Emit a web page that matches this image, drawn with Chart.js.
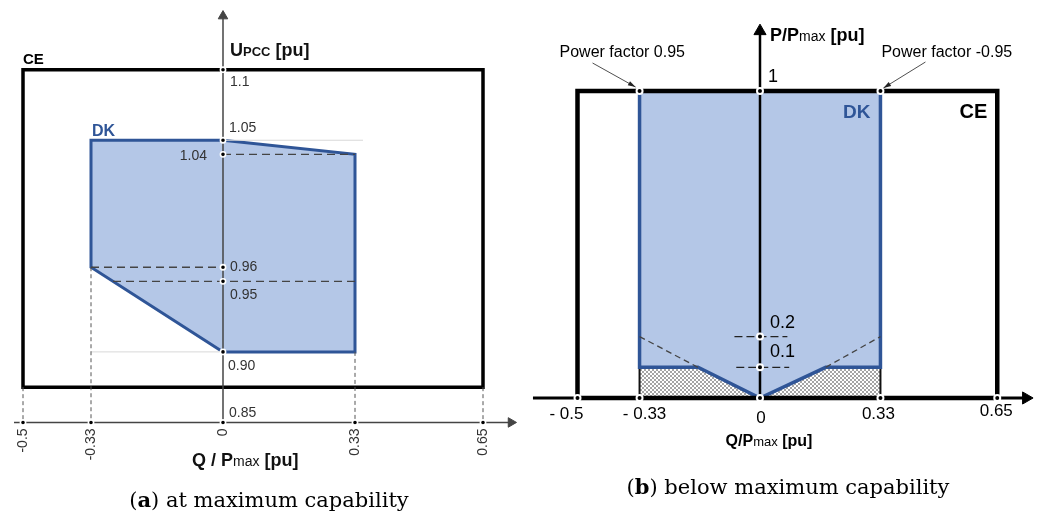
<!DOCTYPE html>
<html>
<head>
<meta charset="utf-8">
<script src="https://cdn.jsdelivr.net/npm/chart.js@4.4.0/dist/chart.umd.min.js"></script>
<style>
  html, body { margin: 0; padding: 0; background: #fff; }
  #wrap { position: relative; width: 1038px; height: 515px; overflow: hidden; }
  .pane { position: absolute; top: 0; width: 519px; height: 515px; }
  .cap { position: absolute; font-family: "DejaVu Serif", serif; font-size: 21px; color: #000;
         white-space: nowrap; transform: translateX(-50%); line-height: 24px; }
</style>
</head>
<body>
<div id="wrap">
  <div class="pane" style="left:0"><canvas id="chartA"></canvas></div>
  <div class="pane" style="left:519px"><canvas id="chartB"></canvas></div>
  <div class="cap" style="left:269px; top:488px">(<b>a</b>) at maximum capability</div>
  <div class="cap" style="left:788px; top:475px">(<b>b</b>) below maximum capability</div>
</div>
<script>
"use strict"

/*----------------------------- data (a) -----------------------------*/
const qTicksA = [-0.5, -0.33, 0, 0.33, 0.65];
const qLabelsA = ["-0.5", "-0.33", "0", "0.33", "0.65"];
const uTicksA = [1.1, 1.05, 1.04, 0.96, 0.95, 0.90, 0.85];
const uLabelsA = ["1.1", "1.05", "1.04", "0.96", "0.95", "0.90", "0.85"];

const dkQA = [-0.33, 0, 0.33, 0.33, 0, -0.33, -0.33]; // DK area
const dkUA = [1.05, 1.05, 1.04, 0.90, 0.90, 0.96, 1.05];
const ceQA = [-0.5, 0.65, 0.65, -0.5, -0.5];          // CE box
const ceUA = [1.1, 1.1, 0.875, 0.875, 1.1];

/*----------------------------- data (b) -----------------------------*/
const qTicksB = [-0.5, -0.33, 0, 0.33, 0.65];
const qLabelsB = ["- 0.5", "- 0.33", "0", "0.33", "0.65"];
const pTicksB = [0.1, 0.2, 1];
const pLabelsB = ["0.1", "0.2", "1"];

const dkQB = [-0.33, 0.33, 0.33, 0.18, 0, -0.17, -0.33, -0.33];
const dkPB = [1, 1, 0.1, 0.1, 0, 0.1, 0.1, 1];
const hatchQB = [-0.33, -0.33, -0.17, 0, 0.18, 0.33, 0.33, -0.33];
const hatchPB = [0, 0.1, 0.1, 0, 0.1, 0.1, 0, 0];
const ceQB = [-0.5, -0.5, 0.65, 0.65, -0.5];
const cePB = [0, 1, 1, 0, 0];

/*----------------------------- helpers -----------------------------*/
function pts(xs, ys) {
    return xs.map((x, i) => ({ x: x, y: ys[i] }));
}

function line(data, color, width, extra) {
    return Object.assign({
        data: data, showLine: true, borderColor: color, borderWidth: width,
        pointRadius: 0, fill: false, tension: 0, borderCapStyle: "square"
    }, extra || {});
}

function markers(data, r, bw, order) {
    return {
        data: data, showLine: false, pointRadius: r, pointBackgroundColor: "#000",
        pointBorderColor: "#fff", pointBorderWidth: bw, order: order
    };
}

function arrowHead(p, rot, r, color) {
    return {
        data: [p], showLine: false, pointStyle: "triangle", pointRotation: rot,
        pointRadius: r, pointBackgroundColor: color, pointBorderColor: color,
        pointBorderWidth: 1, order: 1
    };
}

// text drawn at data coordinates (+ pixel offset)
function textPlugin(items, arrows) {
    return {
        id: "diagramText",
        afterDatasetsDraw(chart) {
            const ctx = chart.ctx;
            const sx = chart.scales.x, sy = chart.scales.y;
            ctx.save();
            arrows.forEach(a => {
                const bx = sx.getPixelForValue(a.at[0]), by = sy.getPixelForValue(a.at[1]);
                const x1 = bx + a.from[0], y1 = by + a.from[1];
                const x2 = bx + a.to[0], y2 = by + a.to[1];
                ctx.strokeStyle = "#222"; ctx.fillStyle = "#222"; ctx.lineWidth = 0.8;
                ctx.beginPath(); ctx.moveTo(x1, y1); ctx.lineTo(x2, y2); ctx.stroke();
                const ang = Math.atan2(y2 - y1, x2 - x1);
                ctx.beginPath();
                ctx.moveTo(x2, y2);
                ctx.lineTo(x2 - 8 * Math.cos(ang - 0.3), y2 - 8 * Math.sin(ang - 0.3));
                ctx.lineTo(x2 - 8 * Math.cos(ang + 0.3), y2 - 8 * Math.sin(ang + 0.3));
                ctx.closePath(); ctx.fill();
            });
            items.forEach(it => {
                const px = sx.getPixelForValue(it.at[0]) + (it.dx || 0);
                const py = sy.getPixelForValue(it.at[1]) + (it.dy || 0);
                ctx.save();
                ctx.translate(px, py);
                if (it.rot) ctx.rotate(it.rot);
                ctx.fillStyle = it.color || "#000";
                ctx.textBaseline = it.base || "alphabetic";
                ctx.textAlign = "left";
                let w = 0;
                it.parts.forEach(p => { ctx.font = p[1]; w += ctx.measureText(p[0]).width; });
                let cx = it.align === "right" ? -w : (it.align === "center" ? -w / 2 : 0);
                it.parts.forEach(p => {
                    ctx.font = p[1];
                    ctx.fillText(p[0], cx, 0);
                    cx += ctx.measureText(p[0]).width;
                });
                ctx.restore();
            });
            ctx.restore();
        }
    };
}

function baseOptions(xmin, xmax, ymin, ymax) {
    return {
        responsive: true, maintainAspectRatio: false, animation: false,
        devicePixelRatio: 1, events: [],
        layout: { padding: 0, autoPadding: false },
        plugins: { legend: { display: false }, tooltip: { enabled: false } },
        scales: {
            x: { type: "linear", min: xmin, max: xmax, display: false },
            y: { type: "linear", min: ymin, max: ymax, display: false }
        }
    };
}

const SANS = "'Liberation Sans', Arial, sans-serif";
const BLUE = "#2f5597";
const FILL = "#b4c7e7";

/*----------------------------- chart (a) -----------------------------*/
const greyA = "#444";
const uOffA = [[7, 16.5], [6, -8], [-16, 6, "right"], [7, 4], [7, 18], [5, 18], [6, -5]];

let itemsA = [
    { parts: [["CE", "bold 15px " + SANS]], at: [-0.5, 1.1], dx: 0, dy: -6 },
    { parts: [["U", "bold 18px " + SANS], ["PCC", "bold 13px " + SANS], [" [pu]", "bold 18px " + SANS]],
      at: [0, 1.1], dx: 7, dy: -14, color: "#111" },
    { parts: [["DK", "bold 16px " + SANS]], at: [-0.33, 1.05], dx: 1, dy: -4, color: BLUE },
    { parts: [["Q / P", "bold 18px " + SANS], ["max", "14px " + SANS], [" [pu]", "bold 18px " + SANS]],
      at: [0, 0.85], dx: -31, dy: 44, color: "#111" }
];
uTicksA.forEach((u, i) => {
    const o = uOffA[i];
    itemsA.push({ parts: [[uLabelsA[i], "14px " + SANS]], at: [0, u], dx: o[0], dy: o[1],
                  align: o[2] || "left", color: "#333" });
});
qTicksA.forEach((q, i) => {
    itemsA.push({ parts: [[qLabelsA[i], "14px " + SANS]], at: [q, 0.85], dx: 0, dy: 6,
                  rot: -Math.PI / 2, align: "right", base: "middle", color: "#333" });
});

let markA = uTicksA.map(u => ({ x: 0, y: u }));
qTicksA.forEach(q => { if (q !== 0) markA.push({ x: q, y: 0.85 }); });

new Chart(document.getElementById("chartA"), {
    type: "scatter",
    data: {
        datasets: [
            markers(markA, 2.6, 1.6, 0),
            arrowHead({ x: 0, y: 1.138 }, 0, 5.5, greyA),
            arrowHead({ x: 0.72, y: 0.85 }, 90, 5.5, greyA),
            line(pts([0, 0], [0.85, 1.138]), greyA, 1.5, { order: 2, borderCapStyle: "butt" }),
            line(pts([-0.5225, 0.72], [0.85, 0.85]), greyA, 1.5, { order: 2, borderCapStyle: "butt" }),
            // dashed guides
            line(pts([0, 0.33], [1.04, 1.04]), greyA, 1.4, { order: 3, borderDash: [8, 5], borderCapStyle: "butt" }),
            line(pts([-0.33, 0], [0.96, 0.96]), greyA, 1.4, { order: 3, borderDash: [8, 5], borderCapStyle: "butt" }),
            line(pts([-0.275, 0.33], [0.95, 0.95]), greyA, 1.4, { order: 3, borderDash: [8, 5], borderCapStyle: "butt" }),
            line(pts([-0.5, -0.5], [0.875, 0.85]), "#555", 1, { order: 3, borderDash: [4, 3], borderCapStyle: "butt" }),
            line(pts([-0.33, -0.33], [0.96, 0.85]), "#555", 1, { order: 3, borderDash: [4, 3], borderCapStyle: "butt" }),
            line(pts([0.33, 0.33], [0.90, 0.85]), "#555", 1, { order: 3, borderDash: [4, 3], borderCapStyle: "butt" }),
            line(pts([0.65, 0.65], [0.875, 0.85]), "#555", 1, { order: 3, borderDash: [4, 3], borderCapStyle: "butt" }),
            // faint construction lines
            line(pts([0, 0.35], [1.05, 1.05]), "#d8d8d8", 1, { order: 4, borderCapStyle: "butt" }),
            line(pts([-0.33, 0], [0.90, 0.90]), "#d8d8d8", 1, { order: 4, borderCapStyle: "butt" }),
            line(pts(ceQA, ceUA), "#000", 3.5, { order: 5 }),
            line(pts(dkQA, dkUA), BLUE, 3, { order: 6, fill: "shape", backgroundColor: FILL })
        ]
    },
    options: baseOptions(-0.5575, 0.74, 0.7844, 1.1494),
    plugins: [textPlugin(itemsA, [])]
});

/*----------------------------- chart (b) -----------------------------*/
const qOffB = [[-11, 21], [5, 21], [1, 25], [-2, 21], [-1, 18]];
const pOffB = [[10, -10], [10, -9], [8, -9]];

let itemsB = [
    { parts: [["P/P", "bold 18px " + SANS], ["max", "14px " + SANS], [" [pu]", "bold 18px " + SANS]],
      at: [0, 1], dx: 10, dy: -50 },
    { parts: [["Q/P", "bold 16px " + SANS], ["max", "13px " + SANS], [" [pu]", "bold 16px " + SANS]],
      at: [0, 0], dx: 9, dy: 48, align: "center" },
    { parts: [["DK", "bold 19px " + SANS]], at: [0.33, 1], dx: -10, dy: 27, align: "right", color: BLUE },
    { parts: [["CE", "bold 20px " + SANS]], at: [0.65, 1], dx: -10, dy: 27, align: "right" },
    { parts: [["Power factor 0.95", "16px " + SANS]], at: [-0.33, 1], dx: -80, dy: -34 },
    { parts: [["Power factor -0.95", "16px " + SANS]], at: [0.33, 1], dx: 1, dy: -34 }
];
qTicksB.forEach((q, i) => {
    itemsB.push({ parts: [[qLabelsB[i], "17px " + SANS]], at: [q, 0], dx: qOffB[i][0], dy: qOffB[i][1], align: "center" });
});
pTicksB.forEach((p, i) => {
    itemsB.push({ parts: [[pLabelsB[i], "18px " + SANS]], at: [0, p], dx: pOffB[i][0], dy: pOffB[i][1] });
});
const arrowsB = [
    { at: [-0.33, 1], from: [-47, -28], to: [-4, -4] },
    { at: [0.33, 1], from: [45, -29], to: [3, -3] }
];

let markB = qTicksB.map(q => ({ x: q, y: 0 }));
pTicksB.forEach(p => markB.push({ x: 0, y: p }));
markB.push({ x: -0.33, y: 1 }, { x: 0.33, y: 1 });

// cross hatch for the area below the DK limit
const hc = document.createElement("canvas");
hc.width = 4; hc.height = 4;
const hctx = hc.getContext("2d");
hctx.fillStyle = "#ffffff"; hctx.fillRect(0, 0, 4, 4);
hctx.strokeStyle = "#a4a4a4"; hctx.lineWidth = 1;
hctx.beginPath();
hctx.moveTo(0, 0); hctx.lineTo(4, 4);
hctx.moveTo(4, 0); hctx.lineTo(0, 4);
hctx.stroke();
const hatch = hctx.createPattern(hc, "repeat");

new Chart(document.getElementById("chartB"), {
    type: "scatter",
    data: {
        datasets: [
            markers(markB, 3, 2, 0),
            arrowHead({ x: 0, y: 1.195 }, 0, 7, "#000"),
            arrowHead({ x: 0.729, y: 0 }, 90, 7, "#000"),
            line(pts([0, 0], [0, 1.195]), "#000", 2.5, { order: 2, borderCapStyle: "butt" }),
            line(pts([-0.622, 0.729], [0, 0]), "#000", 3, { order: 2, borderCapStyle: "butt" }),
            line(pts(ceQB, cePB), "#000", 4.5, { order: 3 }),
            // dashed guides
            line(pts([-0.33, -0.17], [0.2, 0.1]), "#444", 1.3, { order: 4, borderDash: [6, 4], borderCapStyle: "butt" }),
            line(pts([0.18, 0.33], [0.1, 0.2]), "#444", 1.3, { order: 4, borderDash: [6, 4], borderCapStyle: "butt" }),
            line(pts([-0.07, 0.075], [0.2, 0.2]), "#222", 1.3, { order: 4, borderDash: [8, 4], borderCapStyle: "butt" }),
            line(pts([-0.065, 0.08], [0.1, 0.1]), "#222", 1.3, { order: 4, borderDash: [8, 4], borderCapStyle: "butt" }),
            line(pts(dkQB, dkPB), BLUE, 3.5, { order: 5, fill: "shape", backgroundColor: FILL }),
            line(pts(hatchQB, hatchPB), "#111", 2, { order: 6, fill: "shape", backgroundColor: hatch, borderCapStyle: "butt" })
        ]
    },
    options: baseOptions(-0.66027, 0.76164, -0.38111, 1.29642),
    plugins: [textPlugin(itemsB, arrowsB)]
});
</script>
</body>
</html>
